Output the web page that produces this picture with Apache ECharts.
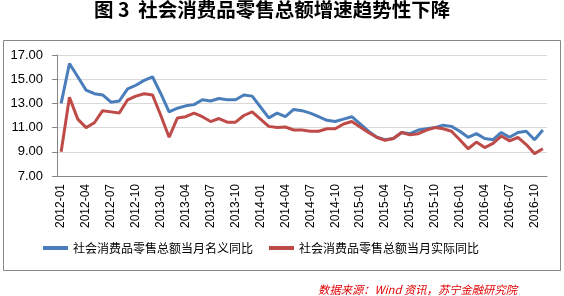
<!DOCTYPE html>
<html>
<head>
<meta charset="utf-8">
<script src="https://cdn.jsdelivr.net/npm/echarts@6/dist/echarts.min.js"></script>
<style>
html,body{margin:0;padding:0;background:#fff;}
#c{width:564px;height:296px;}
</style>
</head>
<body>
<div id="c"></div>
<script>
var categories = [
 '2012-01','2012-02','2012-03','2012-04','2012-05','2012-06','2012-07','2012-08','2012-09','2012-10','2012-11','2012-12',
 '2013-01','2013-02','2013-03','2013-04','2013-05','2013-06','2013-07','2013-08','2013-09','2013-10','2013-11','2013-12',
 '2014-01','2014-02','2014-03','2014-04','2014-05','2014-06','2014-07','2014-08','2014-09','2014-10','2014-11','2014-12',
 '2015-01','2015-02','2015-03','2015-04','2015-05','2015-06','2015-07','2015-08','2015-09','2015-10','2015-11','2015-12',
 '2016-01','2016-02','2016-03','2016-04','2016-05','2016-06','2016-07','2016-08','2016-09','2016-10','2016-11'
];
var nominal = [
 13.0,16.3,15.2,14.1,13.8,13.7,13.1,13.2,14.2,14.5,14.9,15.2,
 13.8,12.3,12.6,12.8,12.9,13.3,13.2,13.4,13.3,13.3,13.7,13.6,
 12.7,11.8,12.2,11.9,12.5,12.4,12.2,11.9,11.6,11.5,11.7,11.9,
 11.3,10.7,10.2,10.0,10.1,10.6,10.5,10.8,10.9,11.0,11.2,11.1,
 10.7,10.2,10.5,10.1,10.0,10.6,10.2,10.6,10.7,10.0,10.8
];
var realGrowth = [
 9.0,13.5,11.7,11.0,11.4,12.4,12.3,12.2,13.3,13.6,13.8,13.7,
 12.0,10.2,11.8,11.9,12.2,11.9,11.5,11.75,11.45,11.45,12.0,12.3,
 11.7,11.1,11.0,11.05,10.8,10.8,10.7,10.7,10.9,10.9,11.3,11.5,
 11.05,10.6,10.2,9.95,10.1,10.6,10.4,10.5,10.8,11.0,10.9,10.7,
 10.0,9.25,9.8,9.35,9.7,10.3,9.9,10.2,9.6,8.85,9.25
];
var seriesNames = ['社会消费品零售总额当月名义同比','社会消费品零售总额当月实际同比'];
var titleText = '图 3  社会消费品零售总额增速趋势性下降';
var sourceText = '数据来源：Wind 资讯，苏宁金融研究院';
var yMin = 7, yMax = 17, yStep = 2;

var chart = echarts.init(document.getElementById('c'), null, {renderer:'canvas'});
chart.setOption({
  animation:false,
  backgroundColor:'#fff',
  title:{
    text:titleText, left:94, top:0, padding:0,
    textStyle:{fontFamily:'"Noto Sans CJK SC"', fontSize:19.5, fontWeight:'bold', color:'#000'}
  },
  graphic:[
    {type:'rect', shape:{x:3.5,y:40.5,width:557,height:230}, style:{fill:'none', stroke:'#888', lineWidth:1}, silent:true, z:-1},
    {type:'text', right:47, top:284, style:{text:sourceText, fill:'#e00000', font:'italic 11.3px "Noto Sans CJK SC"'}}
  ],
  grid:{left:57, right:17, top:55, bottom:120, containLabel:false},
  legend:{
    left:43, top:242, padding:0, itemGap:16, itemWidth:25, itemHeight:4, icon:'rect',
    textStyle:{fontFamily:'"Noto Sans CJK SC"', fontSize:12, color:'#000'},
    data:seriesNames
  },
  xAxis:{
    type:'category', data:categories, boundaryGap:true,
    axisLine:{lineStyle:{color:'#868686', width:1}},
    axisTick:{interval:2, length:5, lineStyle:{color:'#868686'}},
    axisLabel:{interval:2, rotate:90, margin:8, fontFamily:'"Liberation Sans", Arial', fontSize:12, color:'#000'},
    splitLine:{show:false}
  },
  yAxis:{
    type:'value', min:yMin, max:yMax, interval:yStep,
    axisLine:{show:true, lineStyle:{color:'#868686', width:1}},
    axisTick:{show:true, length:5, lineStyle:{color:'#868686'}},
    axisLabel:{margin:14, fontFamily:'"Liberation Sans", Arial', fontSize:13, color:'#000',
      formatter:function(v){return v.toFixed(2);}},
    splitLine:{lineStyle:{color:'#d9d9d9', width:1}}
  },
  series:[
    {name:seriesNames[0], type:'line', data:nominal, showSymbol:false, symbol:'none',
     lineStyle:{color:'#4a7ebb', width:3}, itemStyle:{color:'#4a7ebb'}, z:2},
    {name:seriesNames[1], type:'line', data:realGrowth, showSymbol:false, symbol:'none',
     lineStyle:{color:'#be4b48', width:3}, itemStyle:{color:'#be4b48'}, z:3}
  ]
});
</script>
</body>
</html>
